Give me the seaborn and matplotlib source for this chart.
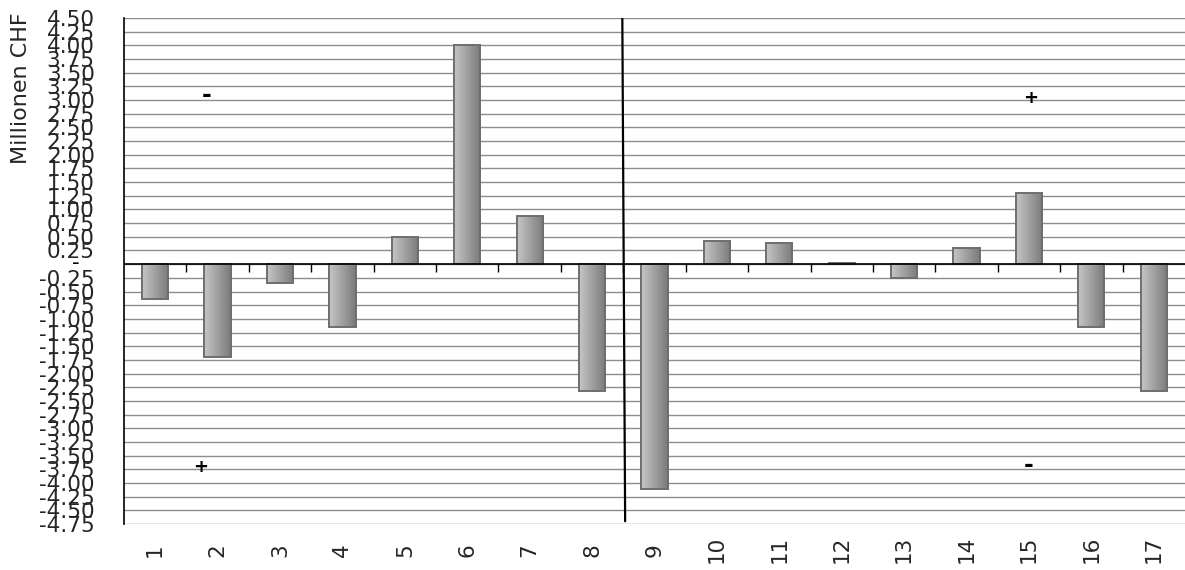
import numpy as np
import pandas as pd
import seaborn as sns
import matplotlib
matplotlib.use("Agg")
import matplotlib.pyplot as plt
from matplotlib.colors import LinearSegmentedColormap

# Chart data (Millionen CHF per position)
categories = [str(i) for i in range(1, 18)]
values = [-0.63, -1.70, -0.35, -1.14, 0.50, 4.00, 0.88, -2.32,
          -4.11, 0.43, 0.38, 0.03, -0.25, 0.30, 1.31, -1.15, -2.32]

# Value axis: ticks every 0.25, zero shown as a dash (accounting style)
y_ticks = np.round(np.arange(-4.75, 4.5001, 0.25), 2)
y_tick_labels = ["" if abs(t) < 1e-9 else f"{t:.2f}" for t in y_ticks]
zero_label = "-"

# Sign annotations in the four quadrants
note_texts = ["-", "+", "+", "-"]
note_y = [3.09, -3.71, 3.03, -3.67]

sns.set_style("white")
plt.rcParams["font.family"] = ["DejaVu Sans"]

fig = plt.figure(figsize=(11.85, 5.70), dpi=100)
ax = fig.add_axes([0.1046, 0.0807, 0.8954, 0.8877])

df = pd.DataFrame({"cat": categories, "val": values})
sns.barplot(data=df, x="cat", y="val", order=categories, width=0.42,
            color="#a0a0a0", edgecolor="#6e6e6e", linewidth=1.4,
            errorbar=None, ax=ax, zorder=3)

# Horizontal light-to-dark gradient inside each bar
grad = np.linspace(0, 1, 256).reshape(1, -1)
cmap = LinearSegmentedColormap.from_list("bar_shade", ["#c6c6c6", "#7a7a7a"])
for patch in list(ax.patches):
    x0, y0 = patch.get_x(), patch.get_y()
    w, h = patch.get_width(), patch.get_height()
    im = ax.imshow(grad, cmap=cmap, extent=[x0, x0 + w, y0, y0 + h],
                   aspect="auto", interpolation="bicubic", zorder=2.5)
    im.set_clip_path(patch)
    patch.set_facecolor("none")
    patch.set_zorder(3)

n = len(categories)
ax.set_xlim(-0.5, n - 0.5)
ax.set_ylim(y_ticks[0], y_ticks[-1])
ax.set_aspect("auto")

# Gridlines at every tick
ax.set_yticks(y_ticks, y_tick_labels)
ax.yaxis.grid(True, color="#8e8e8e", linewidth=1.0)
ax.xaxis.grid(False)
ax.set_axisbelow(True)

# Zero line with category separators hanging below it
ax.axhline(0, color="black", linewidth=1.2, zorder=4)
ax.vlines(np.arange(0.5, n - 0.5, 1.0), 0, -0.146, color="black",
          linewidth=1.0, zorder=4)

# Divider between the two groups of positions
split = 7.5
ax.plot([split - 0.015, split + 0.03], [y_ticks[-1], -4.70],
        color="black", linewidth=1.6, zorder=5)

# Quadrant signs
note_x = [0.83, 0.73, 14.03, 14.0]
for t, x, y in zip(note_texts, note_x, note_y):
    ax.text(x, y, t, ha="center", va="center",
            fontsize=17 if t == "-" else 13,
            fontweight="bold", color="black", zorder=6)

# Axes styling
for side in ["top", "right", "bottom"]:
    ax.spines[side].set_visible(False)
ax.spines["left"].set_color("black")
ax.spines["left"].set_linewidth(1.2)
ax.spines["left"].set_zorder(5)

ax.tick_params(axis="y", which="major", direction="out", length=5,
               width=1.0, color="black", labelsize=15.5, pad=16)
ax.set_xticks(range(n), categories, rotation=90)
ax.tick_params(axis="x", length=0, labelsize=15.5, pad=18.5)
for lbl in ax.get_xticklabels():
    lbl.set_verticalalignment("center")

# Zero shown as a dash, set in from the number column
ax.annotate(zero_label, xy=(0, 0), xycoords=("axes fraction", "data"),
            xytext=(-32, 1), textcoords="offset points",
            ha="right", va="center", fontsize=15.5, color="black",
            annotation_clip=False)

ax.set_xlabel("")
ax.set_ylabel("Millionen CHF", fontsize=16)
ax.yaxis.set_label_coords(-0.088, 0.862)

fig.savefig("out.png", dpi=100)
